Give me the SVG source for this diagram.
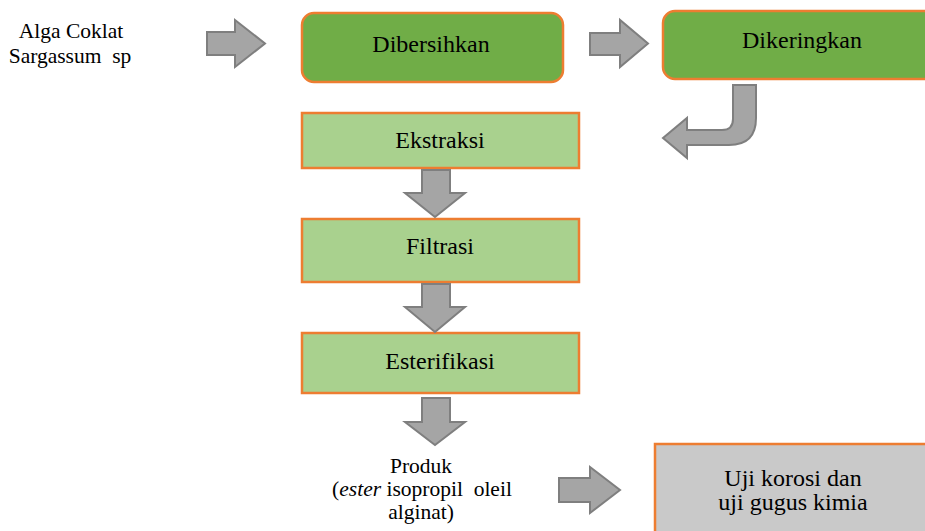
<svg xmlns="http://www.w3.org/2000/svg" width="925" height="531" viewBox="0 0 925 531">
<style>
text{font-family:'Liberation Serif','DejaVu Serif',serif;fill:#000;text-anchor:middle}
.big{font-size:24px}
.sm{font-size:21.5px}
.dark{fill:#70AD47;stroke:#ED7D31;stroke-width:2.5}
.light{fill:#A9D18E;stroke:#ED7D31;stroke-width:2.5}
.grey{fill:#C9C9C9;stroke:#ED7D31;stroke-width:2.5}
.arr{fill:#A5A5A5;stroke:#7F7F7F;stroke-width:2;stroke-linejoin:miter}
</style>
<rect width="925" height="531" fill="#fff"/>
<g id="alga">
<text font-family="Liberation Serif, DejaVu Serif, serif" class="sm" x="71" y="38">Alga Coklat</text>
<text font-family="Liberation Serif, DejaVu Serif, serif" class="sm" x="70" y="63" xml:space="preserve">Sargassum  sp</text>
</g>
<g id="dibersihkan">
<rect class="dark" x="302" y="13" width="261" height="69" rx="12"/>
<text font-family="Liberation Serif, DejaVu Serif, serif" class="big" x="431" y="52">Dibersihkan</text>
</g>
<g id="dikeringkan">
<rect class="dark" x="663" y="11" width="280" height="68" rx="12"/>
<text font-family="Liberation Serif, DejaVu Serif, serif" class="big" x="802" y="48">Dikeringkan</text>
</g>
<g id="ekstraksi">
<rect class="light" x="302" y="113" width="277" height="55"/>
<text font-family="Liberation Serif, DejaVu Serif, serif" class="big" x="440" y="148">Ekstraksi</text>
</g>
<g id="filtrasi">
<rect class="light" x="302" y="219" width="277" height="63"/>
<text font-family="Liberation Serif, DejaVu Serif, serif" class="big" x="440" y="254">Filtrasi</text>
</g>
<g id="esterifikasi">
<rect class="light" x="302" y="333" width="277" height="60"/>
<text font-family="Liberation Serif, DejaVu Serif, serif" class="big" x="440" y="369">Esterifikasi</text>
</g>
<g id="produk">
<text font-family="Liberation Serif, DejaVu Serif, serif" class="sm" x="421" y="473">Produk</text>
<text font-family="Liberation Serif, DejaVu Serif, serif" class="sm" x="422" y="496" xml:space="preserve">(<tspan font-style="italic">ester</tspan> isopropil  oleil</text>
<text font-family="Liberation Serif, DejaVu Serif, serif" class="sm" x="421" y="519">alginat)</text>
</g>
<g id="uji">
<rect class="grey" x="655" y="444" width="290" height="110"/>
<text font-family="Liberation Serif, DejaVu Serif, serif" class="big" x="793" y="486">Uji korosi dan</text>
<text font-family="Liberation Serif, DejaVu Serif, serif" class="big" x="793" y="510">uji gugus kimia</text>
</g>
<g id="connectors">
<path class="arr" d="M207,32 L235,32 L235,20 L265,43.5 L235,67 L235,55 L207,55 Z"/>
<path class="arr" d="M590,33 L620,33 L620,20 L648,43.5 L620,67 L620,55 L590,55 Z"/>
<path class="arr" d="M733,85 L756,85 L756,118 Q756,145 729,145 L687,145 L687,158 L663,138 L687,118 L687,130 L722,130 Q733,130 733,119 Z"/>
<path class="arr" d="M422,170 L450,170 L450,193 L465,193 L435,217 L405,193 L422,193 Z"/>
<path class="arr" d="M422,284 L450,284 L450,307 L465,307 L435,332 L405,307 L422,307 Z"/>
<path class="arr" d="M422,398 L450,398 L450,422 L465,422 L435,445 L405,422 L422,422 Z"/>
<path class="arr" d="M559,478 L590,478 L590,467 L620,490 L590,513 L590,502 L559,502 Z"/>
</g>
</svg>
